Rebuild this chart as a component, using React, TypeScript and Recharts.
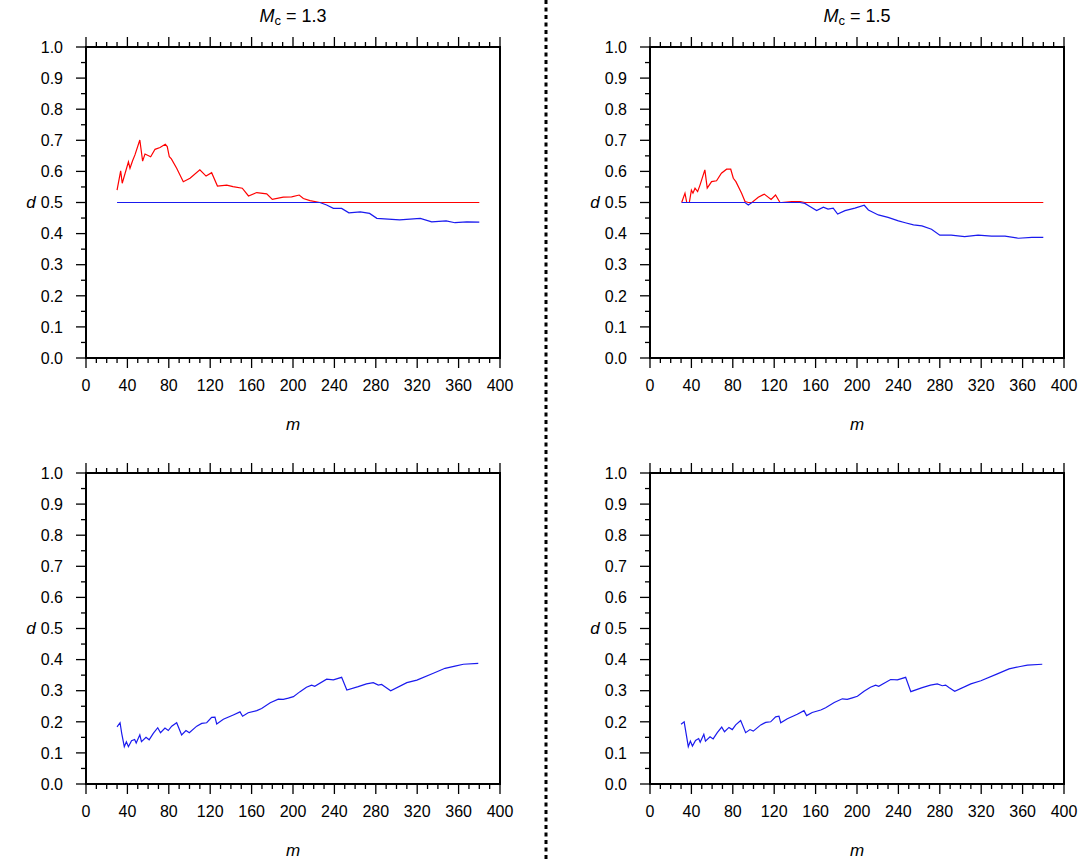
import { LineChart, Line, XAxis, YAxis } from "recharts";

// tick labels
const xMajor = [0, 40, 80, 120, 160, 200, 240, 280, 320, 360, 400];
const yMajor = [0, 0.1, 0.2, 0.3, 0.4, 0.5, 0.6, 0.7, 0.8, 0.9, 1.0];
const xTicks = xMajor.flatMap((v) => (v < 400 ? [v, v + 10, v + 20, v + 30] : [v]));
const yTicks = yMajor.flatMap((v) => (v < 1 ? [v, +(v + 0.05).toFixed(2)] : [v]));
const titles = ["1.3", "1.5"];
const threshold = 0.5;

// top left, M_c = 1.3
const mTL = [30, 33.5, 35, 41, 42.5, 45, 47.3, 52, 54.7, 57, 62.5, 66.7, 71.5, 76.6, 78.5, 80.5, 82.5, 87.6, 94, 100.5, 110, 116, 121.4, 127, 136, 142, 151, 157, 165, 174.6, 180, 190.6, 198.7, 206, 210, 216.4, 226, 232.5, 239, 247, 254, 265, 274, 281, 303, 323, 334, 348, 356.5, 368, 380];
const dTL = [0.54, 0.602, 0.562, 0.631, 0.61, 0.634, 0.653, 0.701, 0.633, 0.656, 0.647, 0.671, 0.677, 0.687, 0.68, 0.647, 0.64, 0.61, 0.567, 0.578, 0.605, 0.585, 0.596, 0.553, 0.556, 0.551, 0.546, 0.521, 0.532, 0.528, 0.51, 0.517, 0.518, 0.524, 0.513, 0.506, 0.5, 0.492, 0.481, 0.481, 0.467, 0.47, 0.465, 0.449, 0.444, 0.449, 0.438, 0.441, 0.435, 0.438, 0.437];

// top right, M_c = 1.5
const mTR = [30.6, 33.8, 35.5, 38, 40, 41.5, 43.5, 46, 48.3, 53, 55.3, 59.5, 64.3, 69, 74, 78, 80.5, 83, 88.5, 91.8, 95, 98.5, 104.6, 110.4, 117, 121.3, 125.6, 127, 136.9, 145, 149.6, 154.5, 161, 167.5, 172, 177, 181.3, 188.4, 198, 207, 211, 220.6, 230, 240, 246.6, 254.6, 262.7, 272, 280, 291, 304, 317, 330, 343, 356, 369, 380];
const dTR = [0.5, 0.53, 0.5, 0.5, 0.54, 0.53, 0.546, 0.535, 0.556, 0.605, 0.546, 0.567, 0.57, 0.594, 0.607, 0.607, 0.578, 0.567, 0.53, 0.503, 0.492, 0.5, 0.517, 0.527, 0.51, 0.524, 0.5, 0.5, 0.503, 0.503, 0.497, 0.487, 0.474, 0.485, 0.479, 0.482, 0.463, 0.474, 0.482, 0.491, 0.476, 0.46, 0.452, 0.441, 0.435, 0.428, 0.425, 0.414, 0.395, 0.395, 0.39, 0.395, 0.392, 0.392, 0.385, 0.388, 0.388];

// bottom left
const mBL = [30, 32.9, 34.5, 37, 39, 41, 44, 47, 48.5, 52, 53.6, 58, 61, 65, 69.3, 72, 76.3, 79.5, 82.8, 87.6, 92.4, 96.6, 99.8, 107, 111.8, 116.6, 121.4, 124.6, 126.3, 132.7, 142.3, 148.8, 151.3, 156.7, 165, 169.7, 178, 185.8, 190.6, 195.5, 200.4, 206.8, 213, 218, 221, 232.5, 239, 247, 252, 263, 271, 277.6, 282.4, 285.6, 288.8, 294.4, 310, 319.7, 335.6, 346.9, 356.5, 364.6, 379];
const dBL = [0.184, 0.197, 0.163, 0.12, 0.136, 0.12, 0.139, 0.143, 0.132, 0.158, 0.136, 0.15, 0.142, 0.163, 0.181, 0.165, 0.18, 0.172, 0.186, 0.197, 0.158, 0.172, 0.165, 0.186, 0.195, 0.197, 0.214, 0.215, 0.193, 0.208, 0.222, 0.232, 0.218, 0.229, 0.236, 0.243, 0.261, 0.273, 0.272, 0.276, 0.281, 0.297, 0.311, 0.318, 0.314, 0.337, 0.335, 0.343, 0.302, 0.313, 0.322, 0.326, 0.318, 0.32, 0.313, 0.3, 0.326, 0.334, 0.356, 0.372, 0.379, 0.385, 0.388];

// bottom right
const mBR = [30, 33, 34.5, 37, 39, 41, 44, 47, 48.5, 52, 53.6, 58, 61, 65, 69.3, 72, 76.3, 79.5, 82.8, 87.6, 92.4, 96.6, 99.8, 107, 111.8, 116.6, 121.4, 124.6, 126.3, 132.7, 142.3, 148.8, 151.3, 156.7, 165, 169.7, 178, 185.8, 190.6, 195.5, 200.4, 206.8, 213, 218, 221, 232.5, 239, 247, 252, 263, 271, 277.6, 282.4, 285.6, 288.8, 294.4, 310, 319.7, 335.6, 346.9, 356.5, 364.6, 379];
const dBR = [0.192, 0.2, 0.17, 0.12, 0.138, 0.122, 0.14, 0.146, 0.134, 0.16, 0.138, 0.152, 0.145, 0.165, 0.183, 0.168, 0.182, 0.175, 0.19, 0.204, 0.165, 0.175, 0.17, 0.19, 0.198, 0.2, 0.216, 0.218, 0.197, 0.21, 0.224, 0.236, 0.22, 0.23, 0.238, 0.245, 0.262, 0.274, 0.272, 0.277, 0.282, 0.298, 0.311, 0.318, 0.314, 0.336, 0.335, 0.343, 0.297, 0.31, 0.318, 0.322, 0.316, 0.318, 0.31, 0.298, 0.322, 0.332, 0.354, 0.37, 0.377, 0.382, 0.385];

const FONT = "'Liberation Sans', Arial, sans-serif";
const CW = 540;
const CH = 430;
const PL = 86;
const PT = 47;
const PW = 414;
const PH = 311;

const isMajorX = (v: number) => xMajor.includes(v);
const isMajorY = (v: number) => Math.round(v * 100) % 10 === 0;

const XTick = (side: "top" | "bottom") => (props: any) => {
  const { x, y, payload } = props;
  const len = isMajorX(payload.value) ? 10 : 5;
  const dir = side === "bottom" ? 1 : -1;
  return (
    <g>
      <line x1={x} y1={y} x2={x} y2={y + dir * len} stroke="#000" strokeWidth={1.3} />
      {side === "bottom" && isMajorX(payload.value) && (
        <text x={x} y={y + 27} dy="0.36em" textAnchor="middle" style={{ fontSize: 16, fontFamily: FONT }} fill="#000">
          {payload.value}
        </text>
      )}
    </g>
  );
};

const YTick = (side: "left" | "right") => (props: any) => {
  const { x, y, payload } = props;
  const len = isMajorY(payload.value) ? 10 : 5;
  const dir = side === "left" ? -1 : 1;
  return (
    <g>
      <line x1={x} y1={y} x2={x + dir * len} y2={y} stroke="#000" strokeWidth={1.3} />
      {side === "left" && isMajorY(payload.value) && (
        <text x={x - 23} y={y} dy="0.36em" textAnchor="end" style={{ fontSize: 16, fontFamily: FONT }} fill="#000">
          {payload.value.toFixed(1)}
        </text>
      )}
    </g>
  );
};

const axisLine = { stroke: "#000", strokeWidth: 2, strokeLinecap: "square" as const };

type PanelProps = { m: number[]; d: number[]; split: boolean; left: number; top: number };

const Panel = ({ m, d, split, left, top }: PanelProps) => {
  const rows = m.map((v, i) =>
    split
      ? { m: v, red: Math.max(d[i], threshold), blue: Math.min(d[i], threshold) }
      : { m: v, blue: d[i] }
  );
  return (
    <div style={{ position: "absolute", left, top, width: CW, height: CH }}>
      <LineChart width={CW} height={CH} data={rows} margin={{ top: 27, right: 20, bottom: 32, left: 46 }}>
        <XAxis xAxisId="b" dataKey="m" type="number" domain={[0, 400]} ticks={xTicks} interval={0}
          orientation="bottom" height={40} tickSize={0} tickMargin={0} tickLine={false}
          axisLine={axisLine} tick={XTick("bottom")} />
        <XAxis xAxisId="t" dataKey="m" type="number" domain={[0, 400]} ticks={xTicks} interval={0}
          orientation="top" height={20} tickSize={0} tickMargin={0} tickLine={false}
          axisLine={axisLine} tick={XTick("top")} />
        <YAxis yAxisId="l" type="number" domain={[0, 1]} ticks={yTicks} interval={0}
          orientation="left" width={40} tickSize={0} tickMargin={0} tickLine={false}
          axisLine={axisLine} tick={YTick("left")} />
        <YAxis yAxisId="r" type="number" domain={[0, 1]} ticks={yTicks} interval={0}
          orientation="right" width={20} tickSize={0} tickMargin={0} tickLine={false}
          axisLine={axisLine} tick={YTick("right")} />
        {split && (
          <Line xAxisId="b" yAxisId="l" type="linear" dataKey="red" stroke="#ff0000"
            strokeWidth={1.2} dot={false} isAnimationActive={false} />
        )}
        <Line xAxisId="b" yAxisId="l" type="linear" dataKey="blue" stroke="#1a1aee"
          strokeWidth={1.2} dot={false} isAnimationActive={false} />
      </LineChart>
      <div style={{ position: "absolute", left: PL - 55, top: PT + PH / 2, transform: "translate(-50%, -50%)",
        fontStyle: "italic", fontSize: 17 }}>d</div>
      <div style={{ position: "absolute", left: PL + PW / 2, top: PT + PH + 67, transform: "translate(-50%, -50%)",
        fontStyle: "italic", fontSize: 17 }}>m</div>
    </div>
  );
};

const Title = ({ value, x }: { value: string; x: number }) => (
  <div style={{ position: "absolute", left: x, top: 17, transform: "translate(-50%, -50%)", fontSize: 18,
    whiteSpace: "nowrap" }}>
    <i>M</i>
    <sub style={{ fontSize: 13, verticalAlign: "-0.25em" }}>c</sub> = {value}
  </div>
);

export default function App() {
  return (
    <div style={{ position: "absolute", left: 0, top: 0, width: 1079, height: 862, overflow: "hidden",
      background: "#fff", fontFamily: FONT, color: "#000" }}>
      <Panel m={mTL} d={dTL} split left={0} top={0} />
      <Panel m={mTR} d={dTR} split left={564} top={0} />
      <Panel m={mBL} d={dBL} split={false} left={0} top={426} />
      <Panel m={mBR} d={dBR} split={false} left={564} top={426} />
      <Title value={titles[0]} x={PL + PW / 2} />
      <Title value={titles[1]} x={564 + PL + PW / 2} />
      <svg style={{ position: "absolute", left: 0, top: 0 }} width={1079} height={862}>
        <line x1={546} y1={0} x2={546} y2={862} stroke="#000" strokeWidth={3} strokeDasharray="4 3.5" />
      </svg>
    </div>
  );
}
